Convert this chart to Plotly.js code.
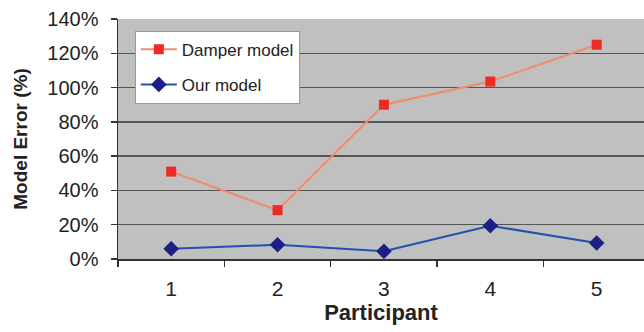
<!DOCTYPE html>
<html><head><meta charset="utf-8">
<script src="https://cdn.plot.ly/plotly-3.0.1.min.js"></script>
<style>html,body{margin:0;padding:0;background:#fff}#c{width:644px;height:332px}</style>
</head><body><div id="c"></div>
<script>
const participants = [1, 2, 3, 4, 5];
const damperModel = [51, 28.5, 90, 103.5, 125];
const ourModel = [6, 8.3, 4.5, 19.4, 9.3];
const yTicks = [0, 20, 40, 60, 80, 100, 120, 140];
const yTickLabels = ['0%', '20%', '40%', '60%', '80%', '100%', '120%', '140%'];

const traces = [
  {x: participants, y: damperModel, name: 'Damper model', mode: 'lines+markers', legendgroup: 'a',
   line: {color: '#f28a6c', width: 2}, marker: {symbol: 'square', size: 10, color: '#ee2a22'}},
  {x: participants, y: ourModel, name: 'Our model', mode: 'lines+markers', legendgroup: 'b',
   line: {color: '#2350b0', width: 2}, marker: {symbol: 'diamond', size: 12, color: '#1c1f86'}}
];
const layout = {
  width: 644, height: 332,
  margin: {l: 118, r: 0, t: 19, b: 73},
  paper_bgcolor: '#ffffff', plot_bgcolor: '#c0c0c0',
  font: {family: 'Liberation Sans, Arial, sans-serif', color: '#222', size: 15},
  showlegend: true,
  legend: {x: 0.032, y: 0.951, xanchor: 'left', yanchor: 'top', bgcolor: '#ffffff',
    bordercolor: '#9a9a9a', borderwidth: 1, font: {size: 17, color: '#222'},
    traceorder: 'grouped', tracegroupgap: 10, itemwidth: 36},
  xaxis: {range: [0.5, 5.445], tickvals: participants, ticktext: participants.map(String),
    ticks: '', showgrid: false, zeroline: false, showline: true, linecolor: '#333', linewidth: 1.5,
    tickfont: {size: 21}, ticklabelstandoff: 10,
    minor: {tick0: 0.5, dtick: 1, ticks: 'outside', ticklen: 6, tickcolor: '#333', tickwidth: 1.5, showgrid: false},
    title: {text: '<b>Participant</b>', font: {size: 22}, standoff: 6}},
  yaxis: {range: [0, 140], tickvals: yTicks, ticktext: yTickLabels, ticks: 'outside', ticklen: 6,
    tickcolor: '#333', tickwidth: 1.5, showgrid: true, gridcolor: '#555', gridwidth: 1.5,
    zeroline: false, showline: true, linecolor: '#333', linewidth: 1.5, tickfont: {size: 20},
    ticklabelstandoff: 8,
    title: {text: '<b>Model Error (%)</b>', font: {size: 19}, standoff: 14}}
};
Plotly.newPlot('c', traces, layout, {displayModeBar: false, staticPlot: true});
</script></body></html>
